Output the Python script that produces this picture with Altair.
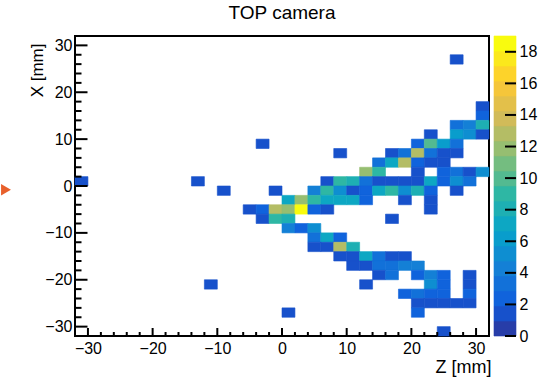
import altair as alt
import pandas as pd

FONT = "Liberation Sans"

# Filled 2 mm x 2 mm cells: bin centres (Z, X) and entries per cell
cell_z = [27,
          31,
          31,
          27, 29, 31,
          23, 27, 29, 31,
          -3, 21, 23, 25, 27,
          9, 17, 19, 21, 23, 25, 27,
          15, 17, 19, 21, 23, 25,
          13, 15, 21, 25, 27, 29, 31,
          -31, -13, 7, 9, 11, 13, 15, 17, 19, 21, 23, 25, 27, 29,
          -9, -1, 5, 7, 9, 11, 13, 15, 17, 19, 21, 23, 27,
          1, 3, 5, 7, 9, 11, 13, 19, 23,
          -5, -3, -1, 1, 3, 5, 7, 23,
          -3, -1, 1, 17,
          1, 3, 5,
          5, 7, 9,
          5, 7, 9, 11,
          9, 11, 13, 15, 17, 19,
          11, 13, 15, 17, 19, 21,
          15, 17, 21, 23, 25, 29,
          -11, 13, 23, 25, 29,
          19, 21, 23, 25, 29,
          21, 23, 25, 27, 29,
          1, 21,
          25]
cell_x = [27,
          17,
          15,
          13, 13, 13,
          11, 11, 11, 11,
          9, 9, 9, 9, 9,
          7, 7, 7, 7, 7, 7, 7,
          5, 5, 5, 5, 5, 5,
          3, 3, 3, 3, 3, 3, 3,
          1, 1, 1, 1, 1, 1, 1, 1, 1, 1, 1, 1, 1, 1,
          -1, -1, -1, -1, -1, -1, -1, -1, -1, -1, -1, -1, -1,
          -3, -3, -3, -3, -3, -3, -3, -3, -3,
          -5, -5, -5, -5, -5, -5, -5, -5,
          -7, -7, -7, -7,
          -9, -9, -9,
          -11, -11, -11,
          -13, -13, -13, -13,
          -15, -15, -15, -15, -15, -15,
          -17, -17, -17, -17, -17, -17,
          -19, -19, -19, -19, -19, -19,
          -21, -21, -21, -21, -21,
          -23, -23, -23, -23, -23,
          -25, -25, -25, -25, -25,
          -27, -27,
          -31]
cell_n = [1,
          1,
          2,
          3, 4, 8,
          1, 6, 5, 1,
          1, 2, 10, 6, 3,
          1, 1, 3, 13, 3, 1, 1,
          3, 7, 13, 2, 1, 1,
          12, 9, 1, 2, 3, 1, 5,
          1, 1, 1, 9, 8, 3, 1, 1, 1, 1, 7, 2, 5, 3,
          1, 1, 4, 9, 5, 1, 2, 7, 9, 5, 8, 2, 1,
          7, 12, 9, 7, 7, 7, 2, 1, 1,
          1, 2, 13, 12, 19, 2, 1, 1,
          1, 9, 8, 1,
          4, 2, 5,
          3, 7, 2,
          1, 1, 13, 8,
          1, 1, 7, 3, 1, 1,
          1, 1, 3, 3, 4, 4,
          1, 3, 2, 4, 2, 1,
          1, 1, 5, 2, 1,
          2, 3, 2, 2, 2,
          1, 1, 1, 1, 1,
          1, 2,
          1]

bin_width = 2.0
z_range = [-32, 32]
x_range = [-32, 32]
z_max = 19
n_levels = 20

# ROOT "bird" palette sampled at the 20 contour levels
bird = ["#273da8", "#1751cb", "#1063dc", "#1271d9", "#1480d6",
        "#0e8ed1", "#099dcc", "#0da7c3", "#1eafb3", "#2eb7a4",
        "#53ba91", "#74bd80", "#96be71", "#b4bd65", "#d1bb59",
        "#e3c04a", "#f5c63a", "#fdd32a", "#fbe81c", "#f9fb0e"]

major_ticks = [-30, -20, -10, 0, 10, 20, 30]
minor_ticks = [-28, -26, -24, -22, -18, -16, -14, -12, -8, -6, -4, -2,
               2, 4, 6, 8, 12, 14, 16, 18, 22, 24, 26, 28]
bar_ticks = [0, 2, 4, 6, 8, 10, 12, 14, 16, 18]
marker_x = [-0.8]

W, H = 414, 300
BAR_W = 22

cells = pd.DataFrame({"z": cell_z, "x": cell_x, "n": cell_n})
cells["z0"] = cells["z"] - bin_width / 2
cells["z1"] = cells["z"] + bin_width / 2
cells["x0"] = cells["x"] - bin_width / 2
cells["x1"] = cells["x"] + bin_width / 2

zs = alt.Scale(domain=z_range, nice=False, zero=False)
xs = alt.Scale(domain=x_range, nice=False, zero=False)
cscale = alt.Scale(type="quantize", domain=[0, z_max], range=bird, nice=False, zero=False)

z_axis = alt.Axis(values=major_ticks, ticks=False, domain=False, grid=False,
                  labelFont=FONT, labelFontSize=16, labelColor="black",
                  labelPadding=4, labelFlush=False, labelOverlap=False,
                  title="Z [mm]", titleFont=FONT, titleFontSize=18,
                  titleFontWeight="normal", titleColor="black",
                  titleAlign="right", titleBaseline="top", titleX=W + 2, titleY=22)
x_axis = alt.Axis(values=major_ticks, ticks=False, domain=False, grid=False,
                  labelFont=FONT, labelFontSize=16, labelColor="black",
                  labelPadding=3, labelFlush=False, labelOverlap=False,
                  title="X [mm]", titleFont=FONT, titleFontSize=17,
                  titleFontWeight="normal", titleColor="black", titleAngle=270,
                  titleAlign="right", titleBaseline="bottom", titleX=-29, titleY=7)

heat = alt.Chart(cells).mark_rect(strokeWidth=0.6).encode(
    x=alt.X("z0:Q", scale=zs, axis=z_axis),
    x2="z1",
    y=alt.Y("x0:Q", scale=xs, axis=x_axis),
    y2="x1",
    color=alt.Color("n:Q", scale=cscale, legend=None),
    stroke=alt.Stroke("n:Q", scale=cscale, legend=None),
)

# inward ticks on the bottom and left edges of the frame
def z_ticks(vals, length):
    return alt.Chart(pd.DataFrame({"t": vals})).mark_rule(color="black", strokeWidth=2).encode(
        x=alt.X("t:Q", scale=zs, axis=z_axis),
        y=alt.value(H), y2=alt.value(H - length))

def x_ticks(vals, length):
    return alt.Chart(pd.DataFrame({"t": vals})).mark_rule(color="black", strokeWidth=2).encode(
        y=alt.Y("t:Q", scale=xs, axis=x_axis),
        x=alt.value(0), x2=alt.value(length))

marker = alt.Chart(pd.DataFrame({"m": marker_x})).mark_point(
    shape="triangle-right", filled=True, color="#e8602c", opacity=1, size=130
).encode(x=alt.value(-69), y=alt.Y("m:Q", scale=xs, axis=x_axis))

main = alt.layer(
    heat,
    z_ticks(major_ticks, 8), z_ticks(minor_ticks, 4),
    x_ticks(major_ticks, 12.5), x_ticks(minor_ticks, 6.5),
    marker,
).properties(
    width=W, height=H,
    title=alt.TitleParams("TOP camera", font=FONT, fontSize=19, fontWeight="normal",
                          color="black", anchor="middle", frame="group", offset=13),
)

# colour bar
step = z_max / n_levels
levels = pd.DataFrame({"lo": [i * step for i in range(n_levels)]})
levels["hi"] = levels["lo"] + step
levels["mid"] = levels["lo"] + step / 2

bscale = alt.Scale(domain=[0, z_max], nice=False, zero=False)
bar_axis = alt.Axis(orient="right", values=bar_ticks, ticks=False, domain=False,
                    grid=False, labelFont=FONT, labelFontSize=16, labelColor="black",
                    labelPadding=3, labelFlush=False, labelOverlap=False, title=None)
bar_rects = alt.Chart(levels).mark_rect(strokeWidth=0.6).encode(
    x=alt.value(0), x2=alt.value(BAR_W),
    y=alt.Y("lo:Q", scale=bscale, axis=bar_axis),
    y2="hi",
    color=alt.Color("mid:Q", scale=cscale, legend=None),
    stroke=alt.Stroke("mid:Q", scale=cscale, legend=None),
)
bar_tick_marks = alt.Chart(pd.DataFrame({"t": bar_ticks})).mark_rule(
    color="black", strokeWidth=2
).encode(y=alt.Y("t:Q", scale=bscale, axis=bar_axis), x=alt.value(BAR_W - 11), x2=alt.value(BAR_W))

bar = alt.layer(bar_rects, bar_tick_marks).properties(
    width=BAR_W, height=H, view=alt.ViewBackground(stroke="transparent"))

chart = alt.hconcat(main, bar, spacing=0).properties(
    padding={"left": 0, "top": 3, "right": 14, "bottom": 0},
    background="white",
).configure_view(stroke="black", strokeWidth=2)

chart.save("out.html", embed_options={"renderer": "svg", "actions": False})
